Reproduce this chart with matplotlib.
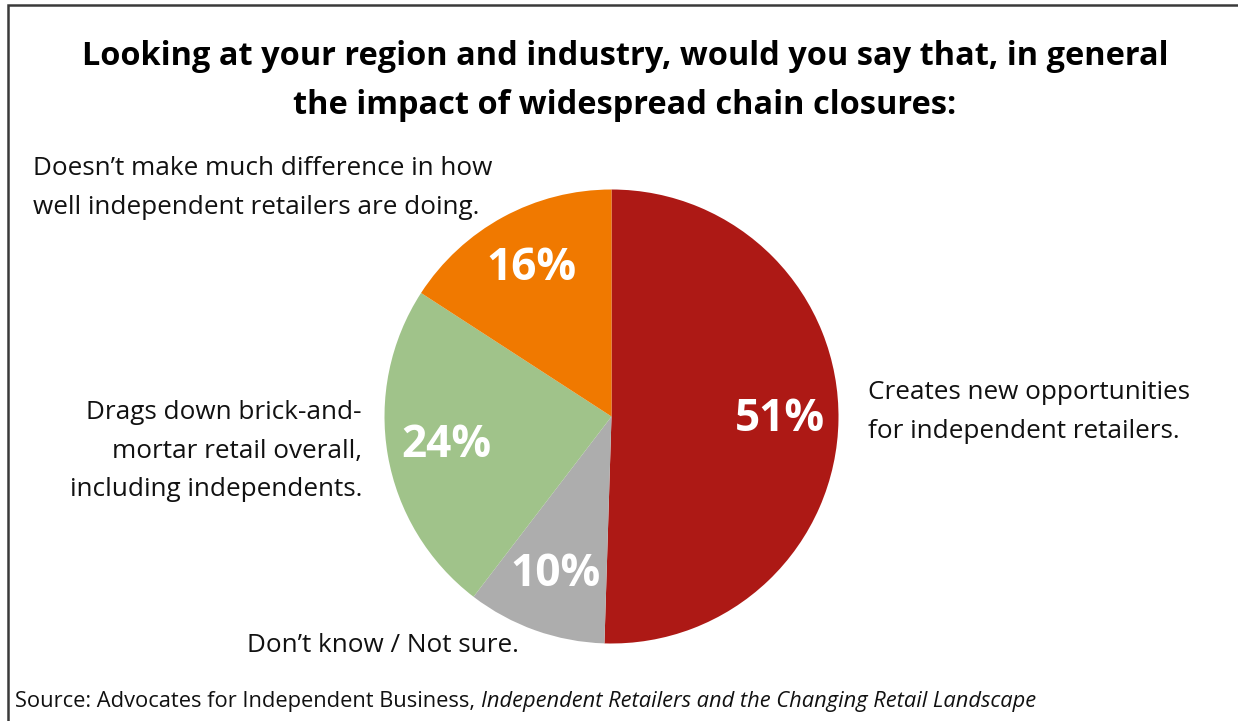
import matplotlib.pyplot as plt
from matplotlib.patches import Rectangle

W, H = 1238, 721

# survey answers, clockwise from the top
answers = [
    "Creates new opportunities\nfor independent retailers.",
    "Don\u2019t know / Not sure.",
    "Drags down brick-and-\nmortar retail overall,\nincluding independents.",
    "Doesn\u2019t make much difference in how\nwell independent retailers are doing.",
]
shares = [51, 10, 24, 16]
colors = ["#AD1915", "#ADADAD", "#A0C38A", "#F07900"]

title = ("Looking at your region and industry, would you say that, in general\n"
         "the impact of widespread chain closures:")

plt.rcParams['font.family'] = ['Open Sans', 'DejaVu Sans']

fig = plt.figure(figsize=(W / 100, H / 100), dpi=100)
fig.patch.set_facecolor('white')
renderer = fig.canvas.get_renderer()

def fx(x):
    return x / W

def fy(y):
    return 1 - y / H

# scale a text's font so its widest line is target px wide
def fit(t, target):
    w = t.get_window_extent(renderer).width
    t.set_fontsize(t.get_fontsize() * target / w)
    return t.get_fontsize()

# frame: only top and left edges show in the picture
fig.add_artist(Rectangle((fx(8), -0.2), 1.5, fy(5) + 0.2, transform=fig.transFigure,
                         fill=False, edgecolor='#3a3a3a', linewidth=1.8))

cx, cy, r = 611.5, 416.5, 227
ax = fig.add_axes([fx(cx - r), fy(cy + r), 2 * r / W, 2 * r / H])
total = sum(shares)
wedges, texts, autotexts = ax.pie(
    shares, colors=colors, startangle=90, counterclock=False,
    autopct=lambda p: f"{p * total / 100:.0f}%", pctdistance=0.74,
    wedgeprops=dict(linewidth=0))
for t in autotexts:
    t.set_color('white')
    t.set_fontsize(28)
    t.set_fontweight('bold')
pfs = fit(autotexts[0], 90)
for t in autotexts:
    t.set_fontsize(pfs)
ax.set_xlim(-1, 1)
ax.set_ylim(-1, 1)
ax.set_aspect('equal')
ax.axis('off')

tt = fig.text(fx(625), fy(81), title, ha='center', va='center', fontsize=21.5,
              fontweight='bold', linespacing=1.65, color='black')
fit(tt, 1086)

lab = dict(fontsize=17, color='#111111', linespacing=1.72)
t3 = fig.text(fx(33), fy(188), answers[3], ha='left', va='center', **lab)
lfs = fit(t3, 459)
lab['fontsize'] = lfs
fig.text(fx(362), fy(451), answers[2], ha='right', va='center', **lab)
fig.text(fx(868), fy(412), answers[0], ha='left', va='center', **lab)
fig.text(fx(383), fy(645), answers[1], ha='center', va='center', **lab)

src = fig.text(fx(15), fy(701), "Source: Advocates for Independent Business, ",
               ha='left', va='center', fontsize=14, color='#111111')
src2 = fig.text(0, fy(701), "Independent Retailers and the Changing Retail Landscape",
                ha='left', va='center', fontsize=14, style='italic', color='#111111')
w1 = src.get_window_extent(renderer).width
w2 = src2.get_window_extent(renderer).width
sfs = 14 * 1025 / (w1 + w2)
src.set_fontsize(sfs)
src2.set_fontsize(sfs)
bb = src.get_window_extent(renderer)
src2.set_x(bb.x1 / W)

fig.savefig("out.png", dpi=100)
